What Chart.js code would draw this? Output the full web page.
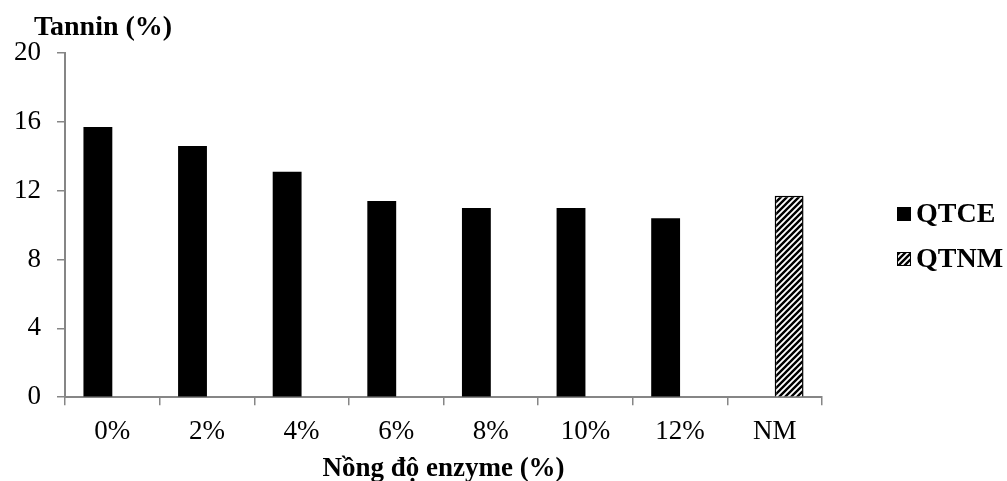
<!DOCTYPE html>
<html>
<head>
<meta charset="utf-8">
<script src="https://cdn.jsdelivr.net/npm/chart.js@4.4.0/dist/chart.umd.min.js"></script>
<style>
  html, body { margin: 0; padding: 0; background: #fff; }
</style>
</head>
<body>
<canvas id="myChart" width="1007" height="481"></canvas>
<script>
const categories = ['0%', '2%', '4%', '6%', '8%', '10%', '12%', 'NM'];
const qtceValues = [15.7, 14.6, 13.1, 11.4, 11.0, 11.0, 10.4, null];
const qtnmValues = [null, null, null, null, null, null, null, 11.7];
const yTicks = [0, 4, 8, 12, 16, 20];
const seriesNames = ['QTCE', 'QTNM'];
const yTitle = 'Tannin (%)';
const xTitle = 'Nồng độ enzyme (%)';

const FONT = '"Liberation Serif", "Times New Roman", serif';
const AXIS_GRAY = '#868686';

// diagonal hatch for the NM bar
const makeHatch = () => {
  const c = document.createElement('canvas');
  c.width = 6;
  c.height = 6;
  const g = c.getContext('2d');
  g.fillStyle = '#fff';
  g.fillRect(0, 0, 6, 6);
  g.strokeStyle = '#000';
  g.lineWidth = 2.4;
  g.beginPath();
  g.moveTo(-1, 7); g.lineTo(7, -1);
  g.moveTo(-4, 4); g.lineTo(4, -4);
  g.moveTo(2, 10); g.lineTo(10, 2);
  g.stroke();
  return g.createPattern(c, 'repeat');
};
const hatch = makeHatch();

// y title sits above the axis, horizontal
const topTitle = {
  id: 'topTitle',
  afterDraw(chart) {
    const { ctx, chartArea } = chart;
    ctx.save();
    ctx.font = 'bold 28px ' + FONT;
    ctx.fillStyle = '#000';
    ctx.textAlign = 'center';
    ctx.textBaseline = 'middle';
    ctx.fillText(yTitle, chartArea.left + 38, chartArea.top - 25);
    ctx.restore();
  }
};

// legend drawn on the right, away from the plot
const sideLegend = {
  id: 'sideLegend',
  afterDraw(chart) {
    const { ctx, chartArea } = chart;
    const x = chartArea.right + 75;
    let y = chartArea.top + 161;
    ctx.save();
    ctx.font = 'bold 28px ' + FONT;
    ctx.textBaseline = 'middle';
    chart.data.datasets.forEach(ds => {
      ctx.fillStyle = ds.backgroundColor;
      ctx.fillRect(x, y - 7, 14, 14);
      ctx.strokeStyle = '#000';
      ctx.lineWidth = 1;
      ctx.strokeRect(x + 0.5, y - 6.5, 13, 13);
      ctx.fillStyle = '#000';
      ctx.fillText(ds.label, x + 19, y + 1);
      y += 45;
    });
    ctx.restore();
  }
};

const ctx = document.getElementById('myChart');
new Chart(ctx, {
  type: 'bar',
  data: {
    labels: categories,
    datasets: [
      {
        label: seriesNames[0],
        data: qtceValues,
        backgroundColor: '#000',
        borderColor: '#000',
        borderWidth: 0,
      },
      {
        label: seriesNames[1],
        data: qtnmValues,
        backgroundColor: hatch,
        borderColor: '#000',
        borderWidth: 1.5,
      }
    ]
  },
  options: {
    responsive: false,
    animation: false,
    categoryPercentage: 0.61,
    barPercentage: 1.0,
    layout: {
      padding: { top: 53, right: 185, left: -2, bottom: -4 }
    },
    plugins: {
      legend: { display: false },
      tooltip: { enabled: false }
    },
    scales: {
      x: {
        grid: {
          drawOnChartArea: false,
          color: AXIS_GRAY,
          lineWidth: 1.5,
          tickLength: 8
        },
        border: { color: AXIS_GRAY, width: 2 },
        ticks: {
          color: '#000',
          padding: 11,
          font: { family: FONT, size: 27 }
        },
        title: {
          display: true,
          text: xTitle,
          color: '#000',
          padding: { top: -7, bottom: 0 },
          font: { family: FONT, size: 27, weight: 'bold' }
        }
      },
      y: {
        min: 0,
        max: 20,
        afterBuildTicks: (scale) => {
          scale.ticks = yTicks.map(v => ({ value: v }));
        },
        grid: {
          drawOnChartArea: false,
          color: AXIS_GRAY,
          lineWidth: 1.5,
          tickLength: 8
        },
        border: { color: AXIS_GRAY, width: 2 },
        ticks: {
          color: '#000',
          padding: 16,
          font: { family: FONT, size: 27 }
        }
      }
    }
  },
  plugins: [topTitle, sideLegend]
});
</script>
</body>
</html>
